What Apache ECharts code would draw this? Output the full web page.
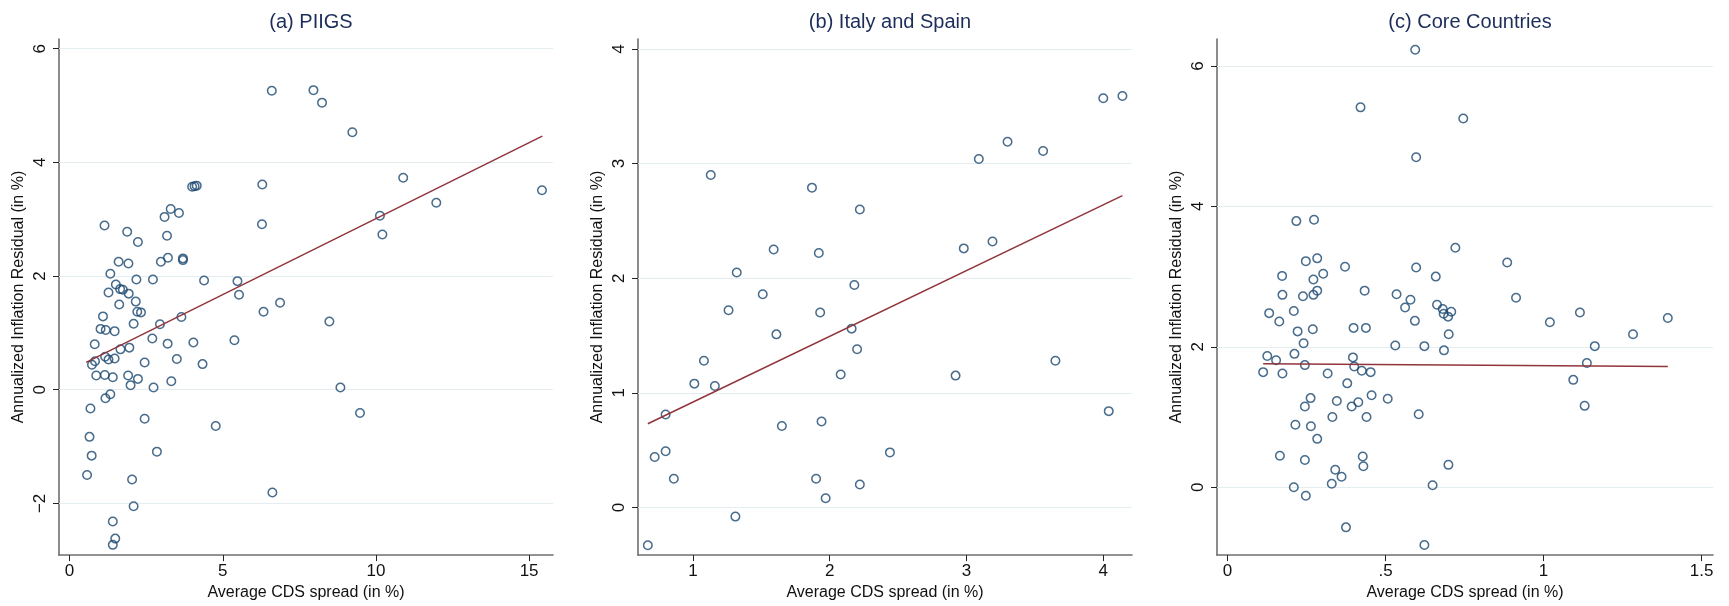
<!DOCTYPE html>
<html>
<head>
<meta charset="utf-8">
<title>CDS spread vs inflation residual</title>
<script src="https://cdn.jsdelivr.net/npm/echarts@6/dist/echarts.min.js"></script>
<style>
  html, body { margin: 0; padding: 0; background: #fff; }
  #chart { width: 1729px; height: 606px; }
</style>
</head>
<body>
<div id="chart"></div>
<script>
// (a) PIIGS
var piigsX = [6.60, 7.96, 8.24, 9.23, 10.89, 11.97, 10.13, 10.21, 6.29, 6.28, 4.00, 4.08, 4.15, 1.14, 1.88, 2.23,
  3.30, 3.57, 3.10, 3.18, 3.21, 3.70, 3.70, 2.98, 1.60, 1.92, 1.33, 2.18, 2.72, 4.39, 5.48, 5.53, 6.87, 6.33,
  1.51, 1.65, 1.74, 1.27, 1.93, 1.62, 2.16, 2.21, 2.33, 1.09, 3.65, 8.48, 2.09, 2.95, 1.01, 1.18, 1.47, 0.82,
  2.70, 3.20, 4.04, 5.38, 1.95, 1.66, 1.16, 1.27, 1.47, 0.83, 0.73, 2.45, 3.50, 4.34, 0.87, 1.15, 1.41, 1.91,
  2.23, 3.32, 1.99, 2.74, 8.84, 1.33, 1.17, 0.68, 2.45, 4.77, 9.48, 0.65, 0.72, 2.85, 0.57, 2.04, 6.62, 2.09,
  1.41, 1.49, 1.41, 15.42];
var piigsY = [5.26, 5.27, 5.05, 4.53, 3.73, 3.29, 3.06, 2.73, 3.61, 2.91, 3.57, 3.58, 3.59, 2.89, 2.78, 2.60,
  3.18, 3.11, 3.04, 2.71, 2.32, 2.31, 2.28, 2.25, 2.25, 2.22, 2.04, 1.94, 1.94, 1.92, 1.91, 1.67, 1.53, 1.37,
  1.85, 1.77, 1.76, 1.71, 1.69, 1.50, 1.55, 1.37, 1.36, 1.29, 1.28, 1.20, 1.16, 1.15, 1.07, 1.05, 1.03, 0.80,
  0.90, 0.81, 0.83, 0.87, 0.74, 0.71, 0.58, 0.53, 0.55, 0.50, 0.44, 0.48, 0.54, 0.45, 0.25, 0.26, 0.22, 0.25,
  0.19, 0.15, 0.08, 0.04, 0.04, -0.08, -0.15, -0.33, -0.51, -0.64, -0.41, -0.83, -1.16, -1.09, -1.50, -1.58, -1.81, -2.05,
  -2.32, -2.62, -2.73, 3.51];
var piigsFitX = [0.54, 15.43];
var piigsFitY = [0.48, 4.46];

// (b) Italy and Spain
var itesX = [1.13, 1.87, 2.22, 3.09, 3.30, 3.56, 4.00, 4.14, 1.59, 1.92, 1.32, 2.98, 3.19, 1.51, 2.18, 1.26,
  1.93, 1.61, 2.16, 2.20, 1.08, 2.08, 2.92, 3.65, 1.01, 1.16, 0.80, 1.65, 1.94, 4.04, 0.72, 0.80, 2.44, 0.86,
  1.90, 2.22, 1.97, 1.31, 0.67];
var itesY = [2.90, 2.79, 2.60, 3.04, 3.19, 3.11, 3.57, 3.59, 2.25, 2.22, 2.05, 2.26, 2.32, 1.86, 1.94, 1.72,
  1.70, 1.51, 1.56, 1.38, 1.28, 1.16, 1.15, 1.28, 1.08, 1.06, 0.81, 0.71, 0.75, 0.84, 0.44, 0.49, 0.48, 0.25,
  0.25, 0.20, 0.08, -0.08, -0.33];
var itesFitX = [0.67, 4.14];
var itesFitY = [0.73, 2.72];

// (c) Core Countries
var coreX = [0.594, 0.421, 0.746, 0.597, 0.218, 0.274, 0.721, 0.885, 0.248, 0.284, 0.372, 0.597, 0.173, 0.272,
  0.303, 0.659, 0.174, 0.239, 0.272, 0.284, 0.434, 0.535, 0.579, 0.913, 0.562, 0.663, 0.681, 0.708, 0.684,
  0.698, 0.210, 0.132, 1.115, 1.393, 0.164, 0.593, 1.020, 0.222, 0.270, 0.399, 0.438, 0.700, 1.283, 0.241,
  0.531, 0.623, 1.162, 0.685, 0.126, 0.212, 0.154, 0.397, 0.245, 0.401, 0.425, 0.453, 1.137, 0.113, 0.174,
  0.317, 0.379, 1.094, 0.263, 0.245, 0.346, 0.393, 0.414, 0.456, 0.507, 1.130, 0.332, 0.440, 0.605, 0.215,
  0.264, 0.284, 0.166, 0.245, 0.428, 0.430, 0.699, 0.341, 0.361, 0.330, 0.210, 0.649, 0.248, 0.375, 0.623];
var coreY = [6.23, 5.41, 5.25, 4.70, 3.79, 3.81, 3.41, 3.20, 3.22, 3.26, 3.14, 3.13, 3.01, 2.96,
  3.04, 3.00, 2.74, 2.72, 2.74, 2.80, 2.80, 2.75, 2.67, 2.70, 2.56, 2.60, 2.54, 2.50, 2.47,
  2.43, 2.51, 2.48, 2.49, 2.41, 2.36, 2.37, 2.35, 2.22, 2.25, 2.27, 2.27, 2.18, 2.18, 2.05,
  2.02, 2.01, 2.01, 1.95, 1.87, 1.90, 1.81, 1.85, 1.74, 1.72, 1.66, 1.64, 1.77, 1.64, 1.62,
  1.62, 1.48, 1.53, 1.27, 1.15, 1.23, 1.15, 1.21, 1.31, 1.26, 1.16, 1.00, 1.00, 1.04, 0.89,
  0.87, 0.69, 0.45, 0.39, 0.44, 0.30, 0.32, 0.25, 0.15, 0.05, 0.00, 0.03, -0.12, -0.57, -0.82];
var coreFitX = [0.113, 1.393];
var coreFitY = [1.76, 1.72];

// tick labels
var piigsXTicks = [0, 5, 10, 15];
var piigsYTicks = [-2, 0, 2, 4, 6];
var itesXTicks = [1, 2, 3, 4];
var itesYTicks = [0, 1, 2, 3, 4];
var coreXTicks = [0, 0.5, 1, 1.5];
var coreYTicks = [0, 2, 4, 6];

var titles = ['(a) PIIGS', '(b) Italy and Spain', '(c) Core Countries'];
var xName = 'Average CDS spread (in %)';
var yName = 'Annualized Inflation Residual (in %)';

var FONT = '"Liberation Sans", Arial, sans-serif';
var NAVY = '#1a476f';
var MAROON = '#90353b';

function zip(xs, ys) {
  var out = [];
  for (var i = 0; i < xs.length; i++) out.push([xs[i], ys[i]]);
  return out;
}

function fmt(v) {
  return String(v).replace('-', '\u2212').replace(/^0\./, '.');
}

// plot boxes (px)
var panels = [
  { left: 59, width: 494, xMin: -0.346, xMax: 15.78, yMin: -2.91, yMax: 6.17,
    xs: piigsX, ys: piigsY, fx: piigsFitX, fy: piigsFitY, xt: piigsXTicks, yt: piigsYTicks },
  { left: 638, width: 494, xMin: 0.598, xMax: 4.21, yMin: -0.416, yMax: 4.087,
    xs: itesX, ys: itesY, fx: itesFitX, fy: itesFitY, xt: itesXTicks, yt: itesYTicks },
  { left: 1217, width: 496, xMin: -0.033, xMax: 1.536, yMin: -0.965, yMax: 6.383,
    xs: coreX, ys: coreY, fx: coreFitX, fy: coreFitY, xt: coreXTicks, yt: coreYTicks }
];

var option = {
  backgroundColor: '#ffffff',
  animation: false,
  title: [],
  grid: [],
  xAxis: [],
  yAxis: [],
  series: []
};

panels.forEach(function (p, i) {
  option.title.push({
    text: titles[i],
    left: p.left + p.width / 2,
    top: 7,
    textAlign: 'center',
    textStyle: { fontFamily: FONT, fontSize: 20, fontWeight: 'normal', color: '#1c2d5a' }
  });
  option.grid.push({ left: p.left, width: p.width, top: 39, height: 518, containLabel: false });
  option.xAxis.push({
    type: 'value', gridIndex: i, min: p.xMin, max: p.xMax,
    name: xName, nameLocation: 'middle', nameGap: 27,
    nameTextStyle: { fontFamily: FONT, fontSize: 16, color: '#111' },
    axisLine: { show: true, onZero: false, lineStyle: { color: '#6f6f6f', width: 1.6 } },
    axisTick: { show: true, length: 6, customValues: p.xt, lineStyle: { color: '#222', width: 1 } },
    axisLabel: { customValues: p.xt, margin: 8, fontFamily: FONT, fontSize: 17, color: '#111', formatter: fmt },
    splitLine: { show: false }
  });
  option.yAxis.push({
    type: 'value', gridIndex: i, min: p.yMin, max: p.yMax,
    name: yName, nameLocation: 'middle', nameGap: 32, nameRotate: 90,
    nameTextStyle: { fontFamily: FONT, fontSize: 16, color: '#111' },
    axisLine: { show: true, onZero: false, lineStyle: { color: '#6f6f6f', width: 1.6 } },
    axisTick: { show: true, length: 6, customValues: p.yt, lineStyle: { color: '#222', width: 1 } },
    axisLabel: { customValues: p.yt, rotate: 90, margin: 10, fontFamily: FONT, fontSize: 17, color: '#111', formatter: fmt },
    splitLine: { show: false }
  });
  // horizontal grid lines at the y ticks
  option.series.push({
    type: 'line', xAxisIndex: i, yAxisIndex: i, data: [], z: 1, silent: true,
    markLine: {
      silent: true, symbol: 'none', animation: false, z: 1,
      label: { show: false },
      lineStyle: { color: '#e4eef1', width: 1.2, type: 'solid' },
      data: p.yt.map(function (v) { return { yAxis: v }; })
    }
  });
  option.series.push({
    type: 'scatter', xAxisIndex: i, yAxisIndex: i, z: 3,
    data: zip(p.xs, p.ys),
    symbol: 'circle', symbolSize: 8.5,
    itemStyle: { color: 'rgba(255,255,255,0)', borderColor: NAVY, borderWidth: 1.5 }
  });
  option.series.push({
    type: 'line', xAxisIndex: i, yAxisIndex: i, z: 4,
    data: zip(p.fx, p.fy),
    symbol: 'none',
    lineStyle: { color: MAROON, width: 1.5 }
  });
});

var myChart = echarts.init(document.getElementById('chart'));
myChart.setOption(option);
</script>
</body>
</html>
